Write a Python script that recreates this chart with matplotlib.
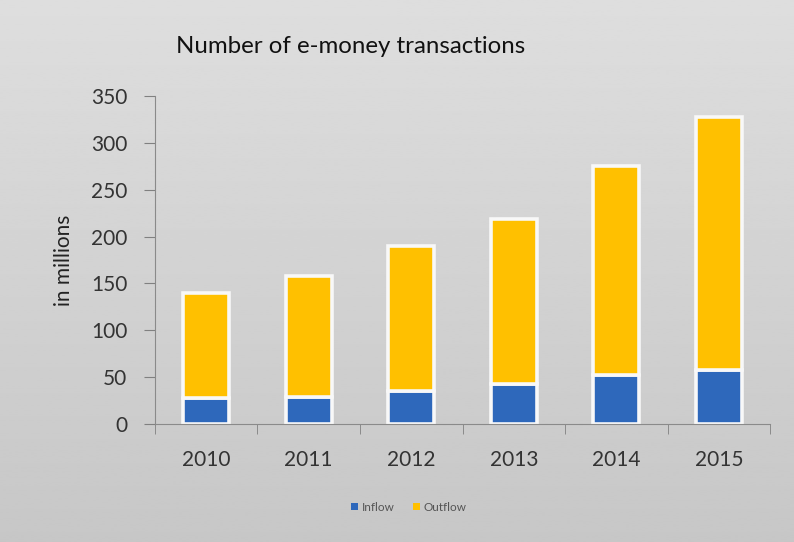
import numpy as np
import matplotlib.pyplot as plt
from matplotlib.ticker import FixedLocator

years = ['2010', '2011', '2012', '2013', '2014', '2015']
inflow = [28, 29, 35, 43, 52, 58]
outflow = [112, 129, 155, 176, 223, 270]

plt.rcParams['font.family'] = ['Lato', 'DejaVu Sans']

fig = plt.figure(figsize=(7.94, 5.42), dpi=100)

# soft grey backdrop, lighter towards the top
bg = fig.add_axes([0, 0, 1, 1], zorder=-10)
grad = np.linspace(0.87, 0.78, 256).reshape(-1, 1)
bg.imshow(grad, aspect='auto', cmap='gray', vmin=0, vmax=1, extent=[0, 1, 0, 1])
bg.axis('off')

ax = fig.add_axes([0.1952, 0.2177, 0.7746, 0.605])
ax.patch.set_alpha(0)

x = np.arange(len(years))
w = 0.45
ax.bar(x, inflow, w, color='#2e68bb', edgecolor='#f8f8f8', linewidth=2.6, label='Inflow')
ax.bar(x, outflow, w, bottom=inflow, color='#ffc000', edgecolor='#f8f8f8',
       linewidth=2.6, label='Outflow')

ax.set_xlim(-0.5, len(years) - 0.5)
ax.set_ylim(0, 350)
ax.set_yticks(range(0, 351, 50))
ax.set_xticks(x)
ax.set_xticklabels(years)
ax.xaxis.set_minor_locator(FixedLocator(np.arange(-0.5, len(years), 1)))
ax.tick_params(axis='x', which='major', length=0, pad=19, labelsize=15, colors='#333333')
ax.tick_params(axis='x', which='minor', length=7, color='#808080')
ax.tick_params(axis='y', length=8, color='#808080', labelsize=15, labelcolor='#333333', pad=12)

for s in ['top', 'right']:
    ax.spines[s].set_visible(False)
for s in ['left', 'bottom']:
    ax.spines[s].set_color('#8a8a8a')

ax.set_ylabel('in millions', fontsize=15, color='#222222', labelpad=12)
fig.text(0.442, 0.915, 'Number of e-money transactions', ha='center', va='center',
         fontsize=17.3, color='#111111')

leg = fig.legend(loc='center', bbox_to_anchor=(0.515, 0.064), ncol=2, frameon=False,
                 fontsize=8.5, handlelength=0.6, handleheight=0.6, handletextpad=0.3,
                 columnspacing=1.6, labelcolor='#555555')
for h in leg.legend_handles:
    h.set_edgecolor('none')

fig.savefig('out.png', dpi=100)
